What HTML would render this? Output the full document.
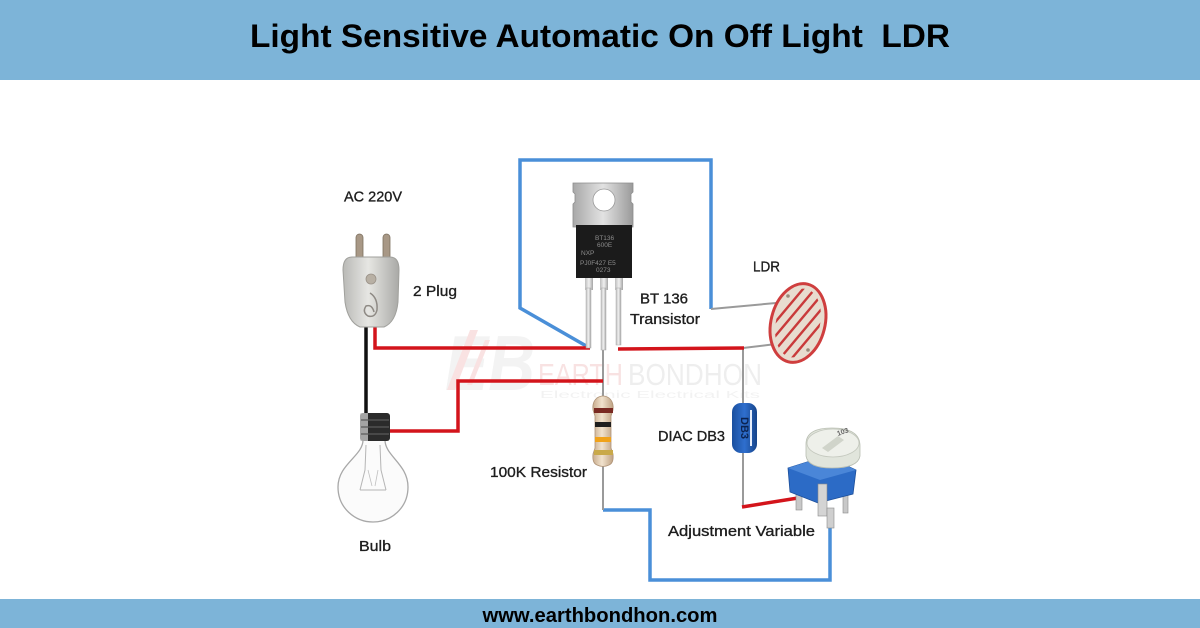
<!DOCTYPE html>
<html>
<head>
<meta charset="utf-8">
<style>
html,body{margin:0;padding:0;background:#fff;}
body{width:1200px;height:628px;overflow:hidden;position:relative;font-family:"Liberation Sans",sans-serif;}
svg{position:absolute;left:0;top:0;}
</style>
</head>
<body>
<svg width="1200" height="628" viewBox="0 0 1200 628" xmlns="http://www.w3.org/2000/svg">
  <defs>
    <linearGradient id="plugG" x1="0" x2="1" y1="0" y2="0">
      <stop offset="0" stop-color="#b9b9b6"/>
      <stop offset="0.45" stop-color="#e6e6e3"/>
      <stop offset="1" stop-color="#a9a9a6"/>
    </linearGradient>
    <linearGradient id="tabG" x1="0" x2="1" y1="0" y2="0">
      <stop offset="0" stop-color="#a8a8a8"/>
      <stop offset="0.5" stop-color="#e2e2e2"/>
      <stop offset="1" stop-color="#9a9a9a"/>
    </linearGradient>
    <linearGradient id="legG" x1="0" x2="1" y1="0" y2="0">
      <stop offset="0" stop-color="#bdbdbd"/>
      <stop offset="0.5" stop-color="#f0f0f0"/>
      <stop offset="1" stop-color="#a5a5a5"/>
    </linearGradient>
    <linearGradient id="resG" x1="0" x2="1" y1="0" y2="0">
      <stop offset="0" stop-color="#c9ad8e"/>
      <stop offset="0.45" stop-color="#f1e2cd"/>
      <stop offset="1" stop-color="#bfa283"/>
    </linearGradient>
    <linearGradient id="diacG" x1="0" x2="1" y1="0" y2="0">
      <stop offset="0" stop-color="#1a4f9e"/>
      <stop offset="0.5" stop-color="#2f6fce"/>
      <stop offset="1" stop-color="#16448a"/>
    </linearGradient>
    <clipPath id="ldrClip">
      <ellipse cx="798" cy="323" rx="22" ry="35" transform="rotate(14 798 323)"/>
    </clipPath>
  </defs>

  <!-- header / footer bands -->
  <rect x="0" y="0" width="1200" height="80" fill="#7db4d8"/>
  <rect x="0" y="599" width="1200" height="29" fill="#7db4d8"/>
  <text x="600" y="47" text-anchor="middle" font-family="Liberation Sans, sans-serif" font-weight="bold" font-size="32" fill="#000" textLength="700" lengthAdjust="spacingAndGlyphs">Light Sensitive Automatic On Off Light&#160; LDR</text>
  <text x="600" y="622" text-anchor="middle" font-family="Liberation Sans, sans-serif" font-weight="bold" font-size="20" fill="#000" textLength="235" lengthAdjust="spacingAndGlyphs">www.earthbondhon.com</text>

  <!-- watermark -->
  <g opacity="0.85">
    <text x="445" y="390" font-family="Liberation Sans, sans-serif" font-style="italic" font-weight="bold" font-size="78" fill="#f1f1f1" textLength="90" lengthAdjust="spacingAndGlyphs">EB</text>
    <path d="M470,330 L478,330 L455,390 L447,390 Z" fill="#f8dede"/>
    <path d="M485,340 L490,340 L472,385 L467,385 Z" fill="#f8dede"/>
    <text x="538" y="385" font-family="Liberation Sans, sans-serif" font-size="31" fill="#f7dede" textLength="85" lengthAdjust="spacingAndGlyphs">EARTH</text>
    <text x="628" y="385" font-family="Liberation Sans, sans-serif" font-size="31" fill="#ececec" textLength="134" lengthAdjust="spacingAndGlyphs">BONDHON</text>
    <text x="540" y="398" font-family="Liberation Sans, sans-serif" font-size="10" fill="#f0f0f0" textLength="220" lengthAdjust="spacingAndGlyphs">Electronic Electrical Kits</text>
  </g>

  <!-- blue wire upper -->
  <path d="M588,347 L520,308 L520,160 L711,160 L711,309" fill="none" stroke="#4a8fd8" stroke-width="3.5" stroke-linejoin="miter"/>
  <!-- blue wire lower -->
  <path d="M603,510 L650,510 L650,580 L830,580 L830,527" fill="none" stroke="#4a8fd8" stroke-width="3.5"/>

  <!-- grey leads -->
  <g stroke="#9a9a9a" stroke-width="2" fill="none">
    <path d="M711,309 L776,303"/>
    <path d="M743,348 L776,344"/>
    <path d="M743,348 L743,404"/>
    <path d="M743,452 L743,507"/>
    <path d="M603,348 L603,398"/>
    <path d="M603,465 L603,510"/>
  </g>

  <!-- black wire -->
  <path d="M366,327 L366,415" stroke="#111" stroke-width="3.5" fill="none"/>
  <!-- red wires -->
  <g stroke="#d3141b" stroke-width="3.5" fill="none">
    <path d="M375,327 L375,348 L590,348"/>
    <path d="M618,349 L744,348"/>
    <path d="M387,431 L458,431 L458,381 L603,381"/>
    <path d="M742,507 L798,498"/>
  </g>

  <!-- plug -->
  <rect x="356" y="234" width="7" height="27" rx="3.5" fill="#a89886" stroke="#7d705f" stroke-width="0.8"/>
  <rect x="383" y="234" width="7" height="27" rx="3.5" fill="#a89886" stroke="#7d705f" stroke-width="0.8"/>
  <path d="M352,257 Q343,257 343,270 L345,302 Q348,322 360,327 L384,327 Q396,322 398,302 L399,270 Q399,257 390,257 Z" fill="url(#plugG)" stroke="#a0a09c" stroke-width="1"/>
  <circle cx="371" cy="279" r="5" fill="#b8b0a4" stroke="#9a9288" stroke-width="0.8"/>
  <path d="M370,293 Q378,298 377,310 Q375,318 368,316 Q362,312 366,306 Q372,304 374,312" fill="none" stroke="#8e8a84" stroke-width="1.5"/>

  <!-- bulb -->
  <path d="M363,440 C363,456 338,464 338,487 C338,508 355,522 373,522 C391,522 408,508 408,487 C408,464 385,456 385,440 Z" fill="#fbfbfb" stroke="#a8a8a8" stroke-width="1.3"/>
  <path d="M366,445 L365,470 L360,490 M380,445 L381,470 L386,490 M360,490 L386,490" fill="none" stroke="#b5b5b5" stroke-width="1"/>
  <path d="M368,470 L372,486 M378,470 L375,486" fill="none" stroke="#c0c0c0" stroke-width="0.8"/>
  <rect x="360" y="413" width="30" height="28" rx="3" fill="#2b2b2b"/>
  <rect x="360" y="413" width="8" height="28" fill="#d8d8d8" opacity="0.7"/>
  <g stroke="#5a5a5a" stroke-width="1.2">
    <line x1="361" y1="420" x2="389" y2="420"/>
    <line x1="361" y1="427" x2="389" y2="427"/>
    <line x1="361" y1="434" x2="389" y2="434"/>
  </g>

  <!-- transistor -->
  <path d="M573,183 L633,183 L633,192 L631,194 L631,202 L633,204 L633,227 L573,227 L573,204 L575,202 L575,194 L573,192 Z" fill="url(#tabG)" stroke="#8c8c8c" stroke-width="0.8"/>
  <circle cx="604" cy="200" r="11" fill="#fff" stroke="#9a9a9a" stroke-width="0.8"/>
  <rect x="576" y="225" width="56" height="53" fill="#1b1b1b"/>
  <g font-family="Liberation Sans, sans-serif" font-size="6.5" fill="#8c8c8c">
    <text x="595" y="240">BT136</text>
    <text x="597" y="247">600E</text>
    <text x="581" y="255">NXP</text>
    <text x="580" y="265">PJ0F427 E5</text>
    <text x="596" y="272">0273</text>
  </g>
  <rect x="585" y="278" width="8" height="12" fill="url(#legG)"/>
  <rect x="600" y="278" width="8" height="12" fill="url(#legG)"/>
  <rect x="615" y="278" width="8" height="12" fill="url(#legG)"/>
  <rect x="586" y="288" width="5" height="60" fill="url(#legG)" stroke="#aaa" stroke-width="0.5"/>
  <rect x="601" y="288" width="5" height="62" fill="url(#legG)" stroke="#aaa" stroke-width="0.5"/>
  <rect x="616" y="288" width="5" height="57" fill="url(#legG)" stroke="#aaa" stroke-width="0.5"/>

  <!-- resistor -->
  <path d="M597,398 Q603,394 609,398 Q614,402 613,410 L611,416 L611,448 L613,454 Q614,463 609,465 Q603,468 597,465 Q592,463 593,454 L595,448 L595,416 L593,410 Q592,402 597,398 Z" fill="url(#resG)" stroke="#b09478" stroke-width="0.8"/>
  <rect x="594" y="408" width="19" height="5" fill="#7a2a22"/>
  <rect x="595" y="422" width="16" height="5" fill="#1e1e1e"/>
  <rect x="595" y="437" width="16" height="5" fill="#f0a21a"/>
  <rect x="594" y="450" width="19" height="5" fill="#c9a94a"/>

  <!-- LDR -->
  <ellipse cx="798" cy="323" rx="27" ry="40" fill="#e8dccf" stroke="#cf3e3e" stroke-width="3" transform="rotate(14 798 323)"/>
  <g clip-path="url(#ldrClip)">
    <g transform="rotate(-50 798 323)">
      <path d="M760,287 H836 V296 H760 V305 H836 V314 H760 V323 H836 V332 H760 V341 H836 V350 H760 V359 H836" fill="none" stroke="#c93a3a" stroke-width="2.4"/>
    </g>
  </g>
  <circle cx="788" cy="296" r="1.8" fill="#9a8a7a"/>
  <circle cx="808" cy="350" r="1.8" fill="#9a8a7a"/>

  <!-- DIAC -->
  <rect x="732" y="403" width="25" height="50" rx="9" fill="url(#diacG)"/>
  <line x1="751" y1="410" x2="751" y2="446" stroke="#e6eefc" stroke-width="2"/>
  <text x="0" y="0" transform="translate(741 428) rotate(90)" text-anchor="middle" font-family="Liberation Sans, sans-serif" font-weight="bold" font-size="11" fill="#0b2350">DB3</text>

  <!-- potentiometer -->
  <rect x="796" y="478" width="6" height="32" fill="#c8c8c8" stroke="#8a8a8a" stroke-width="0.6"/>
  <rect x="843" y="488" width="5" height="25" fill="#c8c8c8" stroke="#8a8a8a" stroke-width="0.6"/>
  <path d="M788,468 L826,456 L856,470 L853,494 L818,503 L790,492 Z" fill="#2c6bc6" stroke="#1d4f9a" stroke-width="0.8"/>
  <path d="M788,468 L826,456 L856,470 L820,480 Z" fill="#4a86d8"/>
  <path d="M806,444 Q806,428 832,428 Q860,428 860,446 L860,456 Q858,468 832,468 Q808,468 806,456 Z" fill="#e1e5dc" stroke="#b9beb2" stroke-width="0.8"/>
  <ellipse cx="833" cy="443" rx="26" ry="14" fill="#eef0ea" stroke="#c3c7bd" stroke-width="0.8"/>
  <path d="M822,448 L838,436 L844,440 L828,452 Z" fill="#d0d4ca"/>
  <text x="838" y="436" font-family="Liberation Sans, sans-serif" font-size="7" font-weight="bold" fill="#666" transform="rotate(-20 838 436)">103</text>
  <rect x="818" y="484" width="9" height="32" fill="#d4d4d4" stroke="#8a8a8a" stroke-width="0.6"/>
  <rect x="827" y="508" width="7" height="20" fill="#cfcfcf" stroke="#8a8a8a" stroke-width="0.6"/>

  <!-- labels -->
  <g font-family="Liberation Sans, sans-serif" font-size="15" fill="#1e1e1e" stroke="#1e1e1e" stroke-width="0.35">
    <text x="344" y="201.5" textLength="58" lengthAdjust="spacingAndGlyphs">AC 220V</text>
    <text x="413" y="296" textLength="44" lengthAdjust="spacingAndGlyphs">2 Plug</text>
    <text x="640" y="303.5" textLength="48" lengthAdjust="spacingAndGlyphs">BT 136</text>
    <text x="630" y="324" textLength="70" lengthAdjust="spacingAndGlyphs">Transistor</text>
    <text x="753" y="271.5" textLength="27" lengthAdjust="spacingAndGlyphs">LDR</text>
    <text x="658" y="441" textLength="67" lengthAdjust="spacingAndGlyphs">DIAC DB3</text>
    <text x="490" y="477" textLength="97" lengthAdjust="spacingAndGlyphs">100K Resistor</text>
    <text x="668" y="536" textLength="147" lengthAdjust="spacingAndGlyphs">Adjustment Variable</text>
    <text x="359" y="551" textLength="32" lengthAdjust="spacingAndGlyphs">Bulb</text>
  </g>
</svg>
</body>
</html>
